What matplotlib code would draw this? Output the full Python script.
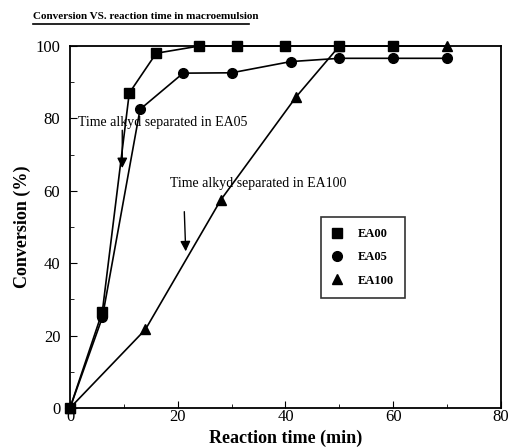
import numpy as np
import matplotlib.pyplot as plt
from matplotlib.ticker import MultipleLocator

plt.rcParams['font.family'] = ['Liberation Serif', 'DejaVu Serif']

# conversion data (min, %)
t_ea00 = [0, 6, 11, 16, 24, 31, 40, 50, 60]
c_ea00 = [0, 26.6, 87, 98, 100, 100, 100, 100, 100]
t_ea05 = [0, 6, 13, 21, 30, 41, 50, 60, 70]
c_ea05 = [0, 25, 82.5, 92.5, 92.6, 95.7, 96.6, 96.6, 96.6]
t_ea100 = [0, 14, 28, 42, 50, 70]
c_ea100 = [0, 21.7, 57.5, 86, 100, 100]

fig = plt.figure(figsize=(5.08, 4.48), dpi=100)
ax = fig.add_axes([0.1378, 0.0893, 0.8484, 0.808])

kw = dict(color='k', ls='-', ms=7, lw=1.2, clip_on=False, zorder=3)
ax.plot(t_ea00, c_ea00, marker='s', label='EA00', **kw)
ax.plot(t_ea05, c_ea05, marker='o', label='EA05', **kw)
ax.plot(t_ea100, c_ea100, marker='^', label='EA100', **kw)

ax.set_xlim(0, 80)
ax.set_ylim(0, 100)
ax.xaxis.set_major_locator(MultipleLocator(20))
ax.xaxis.set_minor_locator(MultipleLocator(10))
ax.yaxis.set_major_locator(MultipleLocator(20))
ax.yaxis.set_minor_locator(MultipleLocator(10))
ax.tick_params(which='both', direction='in', top=False, right=False,
               labelsize=12)
ax.tick_params(axis='x', pad=1)
ax.tick_params(axis='y', pad=7)
ax.tick_params(which='major', length=5)
ax.tick_params(which='minor', length=3)
for s in ax.spines.values():
    s.set_linewidth(1.3)

# separation arrows
ax.text(1.5, 79, 'Time alkyd separated in EA05', fontsize=10, va='center')
ax.annotate('', xy=(9.7, 65.5), xytext=(9.7, 77.5),
            arrowprops=dict(arrowstyle='-|>', color='k', lw=1, mutation_scale=15))
ax.text(18.6, 62, 'Time alkyd separated in EA100', fontsize=10, va='center')
ax.annotate('', xy=(21.5, 42.5), xytext=(21.2, 55),
            arrowprops=dict(arrowstyle='-|>', color='k', lw=1, mutation_scale=15))

leg = ax.legend(loc='upper left', bbox_to_anchor=(0.568, 0.545), frameon=True,
                fancybox=False, edgecolor='k', handlelength=0.8,
                prop={'weight': 'bold', 'size': 9}, labelspacing=0.9,
                borderpad=0.9, handletextpad=1.2)
leg.get_frame().set_linewidth(1.2)
for h in leg.legend_handles:
    h.set_linestyle('')

ax.set_xlabel('Reaction time (min)', fontsize=13, fontweight='bold', labelpad=3)
ax.set_ylabel('Conversion (%)', fontsize=13, fontweight='bold', labelpad=3)

fig.text(0.065, 0.964, 'Conversion VS. reaction time in macroemulsion',
         fontsize=8, fontweight='bold', va='center')
fig.add_artist(plt.Line2D([0.065, 0.49], [0.947, 0.947], color='k', lw=1.2))

plt.savefig('out.png', dpi=100)
